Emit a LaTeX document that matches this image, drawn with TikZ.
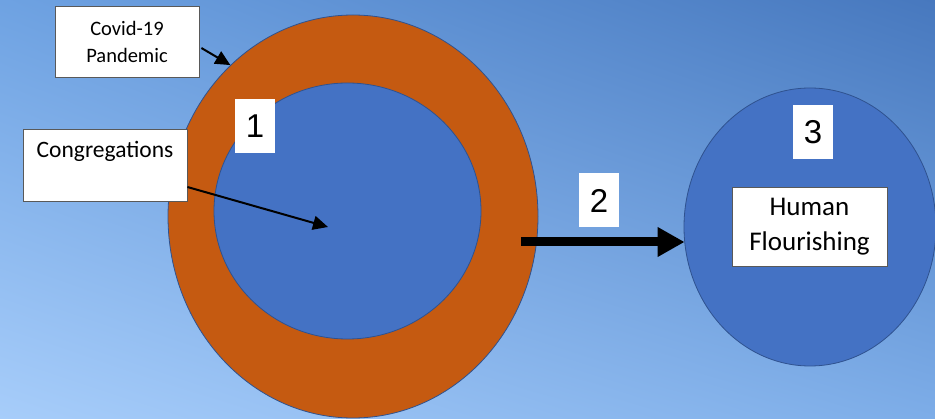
\documentclass[tikz,border=0pt]{standalone}
\usepackage{fontspec}
\setmainfont{Carlito}
\newfontfamily\arialf{Liberation Sans}
\usetikzlibrary{arrows.meta,shapes.geometric,calc,shadings}
\definecolor{ringorange}{HTML}{C55A11}
\definecolor{discblue}{HTML}{4472C4}
\definecolor{edgeblue}{HTML}{2F528F}
\definecolor{boxedge}{HTML}{595959}
\definecolor{bgUL}{HTML}{6EA2E2}
\definecolor{bgUR}{HTML}{4778BE}
\definecolor{bgLL}{HTML}{A7CDFA}
\definecolor{bgLR}{HTML}{7DADE8}
\tikzset{
  disc/.style={ellipse, inner sep=0pt, draw=edgeblue, line width=0.8pt},
  numbox/.style={fill=white, inner sep=0pt, minimum width=40pt, minimum height=54pt,
    font=\arialf\fontsize{33}{36}\selectfont},
  textbox/.style={fill=white, draw=boxedge, line width=0.8pt, inner sep=0pt, align=center},
  thinarrow/.style={line width=2pt, -{Triangle[length=15pt,width=14pt]}},
  bigarrow/.style={line width=9pt, -{Triangle[length=27pt,width=28pt]}}
}
\begin{document}
\begin{tikzpicture}[x=1pt,y=-1pt]
\useasboundingbox (0,0) rectangle (935,419);
\shade[upper left=bgUL, upper right=bgUR, lower left=bgLL, lower right=bgLR] (0,0) rectangle (935,419);

% discs
\node[disc, fill=ringorange, minimum width=370pt, minimum height=403pt] (outer) at (353,216.5) {};
\node[disc, fill=discblue, minimum width=267pt, minimum height=256pt] (inner) at (347.5,211) {};
\node[disc, fill=discblue, minimum width=252pt, minimum height=278pt] (goal) at (810,227) {};

% number boxes
\node[numbox] (n1) at (255,126) {1};
\node[numbox] (n2) at (599,200.5) {2};
\node[numbox] (n3) at (813,132) {3};

% text boxes
\node[textbox, minimum width=144pt, minimum height=71pt, font=\fontsize{20.5}{27}\selectfont] (covid) at (127,41.5) {Covid-19\\Pandemic};
\node[textbox, minimum width=164pt, text height=29pt, text depth=43pt, font=\fontsize{23.5}{27}\selectfont] (cong) at (105,165) {Congregations};
\node[textbox, minimum width=155pt, minimum height=79pt, font=\fontsize{27}{35}\selectfont] (human) at (809.5,226.5) {Human\\Flourishing};

% connectors
\coordinate (congtip) at (328,227);
\coordinate (bstart) at (521,242);
\draw[thinarrow] ($(covid.east)+(2,6.5)$) -- (outer.129);
\draw[thinarrow] ($(cong.east)+(0,22)$) -- (congtip);
\draw[bigarrow] (bstart) -- ($(bstart -| goal.west)+(1,0)$);
\end{tikzpicture}
\end{document}
